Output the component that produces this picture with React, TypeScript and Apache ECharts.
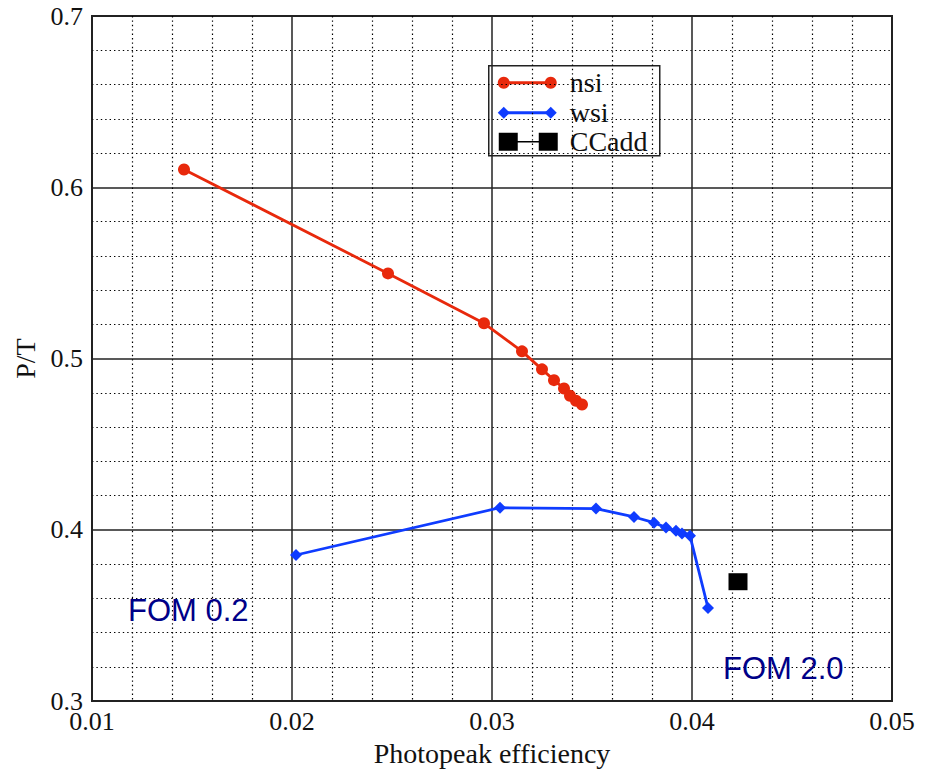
import React, { useEffect, useRef } from "react";
import * as echarts from "echarts";

const nsiX = [0.0146, 0.0248, 0.0296, 0.0315, 0.0325, 0.0331, 0.0336, 0.0339, 0.0342, 0.0345];
const nsiY = [0.6104, 0.5497, 0.5206, 0.5042, 0.4937, 0.4874, 0.4825, 0.4783, 0.4754, 0.4732];
const wsiX = [0.0202, 0.0304, 0.0352, 0.0371, 0.0381, 0.0387, 0.0392, 0.0395, 0.0399, 0.0408];
const wsiY = [0.3853, 0.4129, 0.4124, 0.4075, 0.4042, 0.4013, 0.3994, 0.3979, 0.3965, 0.3544];
const ccaddX = [0.0423];
const ccaddY = [0.3697];
const seriesNames = ["nsi", "wsi", "CCadd"];
const annotations = ["FOM 0.2", "FOM 2.0"];

const RED = "#e8290c";
const BLUE = "#0f3cff";
const NAVY = "#000088";
const SERIF = "Liberation Serif";
const SANS = "Liberation Sans";

const zip = (xs: number[], ys: number[]) => xs.map((x, i) => [x, ys[i]]);

export default function App() {
  const ref = useRef<HTMLDivElement>(null);
  useEffect(() => {
    if (!ref.current) return;
    const chart = echarts.init(ref.current, undefined, { renderer: "svg" });
    const lx = 488, ly = 65;
    chart.setOption({
      animation: false,
      backgroundColor: "#ffffff",
      grid: {
        left: 92,
        top: 16,
        width: 800,
        height: 690,
        show: true,
        borderColor: "#222",
        borderWidth: 2,
        backgroundColor: "transparent",
      },
      xAxis: {
        type: "value",
        min: 0.01,
        max: 0.05,
        interval: 0.01,
        name: "Photopeak efficiency",
        nameLocation: "middle",
        nameGap: 37,
        nameTextStyle: { fontFamily: SERIF, fontSize: 28, color: "#111" },
        axisLine: { show: false },
        axisTick: { show: false },
        axisLabel: {
          margin: 7,
          fontFamily: SERIF,
          fontSize: 26,
          color: "#111",
          formatter: (v: number) => v.toFixed(2),
        },
        splitLine: { show: true, lineStyle: { color: "#222", width: 1.5 } },
        minorTick: { show: false, splitNumber: 5 },
        minorSplitLine: { show: true, lineStyle: { color: "#000", width: 1.2, type: [1.4, 3] } },
      },
      yAxis: {
        type: "value",
        min: 0.3,
        max: 0.7,
        interval: 0.1,
        name: "P/T",
        nameLocation: "middle",
        nameGap: 52,
        nameRotate: 90,
        nameTextStyle: { fontFamily: SERIF, fontSize: 28, color: "#111" },
        axisLine: { show: false },
        axisTick: { show: false },
        axisLabel: {
          margin: 9,
          fontFamily: SERIF,
          fontSize: 26,
          color: "#111",
          formatter: (v: number) => v.toFixed(1),
        },
        splitLine: { show: true, lineStyle: { color: "#222", width: 1.5 } },
        minorTick: { show: false, splitNumber: 5 },
        minorSplitLine: { show: true, lineStyle: { color: "#000", width: 1.2, type: [1.4, 3] } },
      },
      legend: { show: false },
      series: [
        {
          name: seriesNames[0],
          type: "line",
          data: zip(nsiX, nsiY),
          symbol: "circle",
          symbolSize: 12,
          itemStyle: { color: RED },
          lineStyle: { color: RED, width: 2.8 },
          z: 3,
        },
        {
          name: seriesNames[1],
          type: "line",
          data: zip(wsiX, wsiY),
          symbol: "diamond",
          symbolSize: 12,
          itemStyle: { color: BLUE },
          lineStyle: { color: BLUE, width: 2.8 },
          z: 3,
        },
        {
          name: seriesNames[2],
          type: "line",
          data: zip(ccaddX, ccaddY),
          symbol: "rect",
          symbolSize: [19, 17],
          itemStyle: { color: "#000" },
          lineStyle: { color: "#000", width: 1.5 },
          z: 3,
        },
      ],
      graphic: [
        {
          type: "text",
          left: 128,
          top: 595,
          style: { text: annotations[0], font: `31px "${SANS}"`, fill: NAVY },
          z: 10,
        },
        {
          type: "text",
          left: 723,
          top: 653,
          style: { text: annotations[1], font: `31px "${SANS}"`, fill: NAVY },
          z: 10,
        },
        {
          type: "group",
          left: lx,
          top: ly,
          z: 20,
          children: [
            { type: "rect", shape: { x: 0, y: 0, width: 171, height: 90 }, style: { fill: "#fff", stroke: "#222", lineWidth: 1.5 } },
            { type: "line", shape: { x1: 15, y1: 17, x2: 62, y2: 17 }, style: { stroke: RED, lineWidth: 2.8 } },
            { type: "circle", shape: { cx: 15, cy: 17, r: 6 }, style: { fill: RED } },
            { type: "circle", shape: { cx: 62, cy: 17, r: 6 }, style: { fill: RED } },
            { type: "text", x: 81, y: 17, style: { text: seriesNames[0], font: `28px "${SERIF}"`, fill: "#111", verticalAlign: "middle" } },
            { type: "line", shape: { x1: 15, y1: 47, x2: 62, y2: 47 }, style: { stroke: BLUE, lineWidth: 2.8 } },
            { type: "polygon", shape: { points: [[15, 41], [21, 47], [15, 53], [9, 47]] }, style: { fill: BLUE } },
            { type: "polygon", shape: { points: [[62, 41], [68, 47], [62, 53], [56, 47]] }, style: { fill: BLUE } },
            { type: "text", x: 81, y: 47, style: { text: seriesNames[1], font: `28px "${SERIF}"`, fill: "#111", verticalAlign: "middle" } },
            { type: "line", shape: { x1: 15, y1: 76, x2: 62, y2: 76 }, style: { stroke: "#000", lineWidth: 1.5 } },
            { type: "rect", shape: { x: 10, y: 67, width: 19, height: 18 }, style: { fill: "#000" } },
            { type: "rect", shape: { x: 50, y: 67, width: 19, height: 18 }, style: { fill: "#000" } },
            { type: "text", x: 81, y: 76, style: { text: seriesNames[2], font: `28px "${SERIF}"`, fill: "#111", verticalAlign: "middle" } },
          ],
        },
      ],
    });
    return () => chart.dispose();
  }, []);
  return (
    <div
      ref={ref}
      style={{ position: "absolute", left: 0, top: 0, width: 935, height: 772, background: "#fff" }}
    />
  );
}
